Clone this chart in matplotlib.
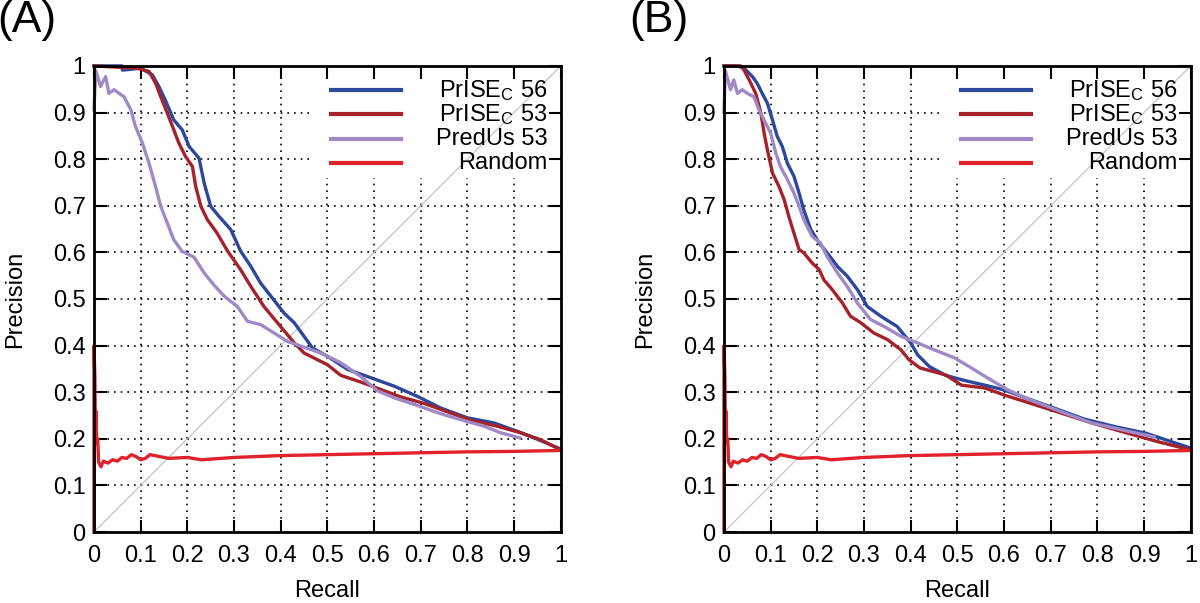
import numpy as np
import matplotlib
matplotlib.use("Agg")
import matplotlib.pyplot as plt
from matplotlib.ticker import FormatStrFormatter
from matplotlib.patches import Rectangle

plt.rcParams['font.family'] = ['Liberation Sans', 'DejaVu Sans']
plt.rcParams['mathtext.fontset'] = 'custom'
plt.rcParams['mathtext.rm'] = 'Liberation Sans'
plt.rcParams['mathtext.it'] = 'Liberation Sans:italic'

# ---- data ----
labels = [r'PrISE$_{\mathrm{C}}$ 56', r'PrISE$_{\mathrm{C}}$ 53', 'PredUs 53', 'Random']
colors = ['#2c479c', '#a5222b', '#a08ac6', '#e2222a']
ticks = [0, 0.1, 0.2, 0.3, 0.4, 0.5, 0.6, 0.7, 0.8, 0.9, 1.0]
diag = [0, 1]

# panel A
prise56_a_rec = [0, 0.06, 0.061, 0.10, 0.125, 0.139, 0.154, 0.171, 0.189, 0.204, 0.225, 0.236, 0.25,
                 0.268, 0.293, 0.314, 0.336, 0.357, 0.379, 0.407, 0.429, 0.45, 0.468, 0.5, 0.543,
                 0.593, 0.643, 0.693, 0.743, 0.8, 0.857, 0.907, 0.95, 1.0]
prise56_a_pre = [1.0, 1.0, 0.991, 0.995, 0.981, 0.956, 0.924, 0.884, 0.863, 0.827, 0.802, 0.749, 0.699,
                 0.677, 0.649, 0.603, 0.57, 0.534, 0.506, 0.47, 0.449, 0.42, 0.395, 0.377, 0.349,
                 0.331, 0.313, 0.291, 0.266, 0.245, 0.234, 0.216, 0.199, 0.178]
prise53_a_rec = [0, 0.093, 0.118, 0.132, 0.143, 0.157, 0.171, 0.182, 0.196, 0.211, 0.218, 0.229, 0.243,
                 0.264, 0.286, 0.314, 0.336, 0.364, 0.393, 0.429, 0.45, 0.5, 0.529, 0.571, 0.614,
                 0.657, 0.707, 0.757, 0.807, 0.864, 0.914, 0.957, 1.0]
prise53_a_pre = [1.0, 0.995, 0.988, 0.963, 0.934, 0.899, 0.863, 0.834, 0.806, 0.784, 0.741, 0.699, 0.67,
                 0.641, 0.603, 0.563, 0.527, 0.484, 0.449, 0.406, 0.384, 0.359, 0.336, 0.322, 0.306,
                 0.29, 0.276, 0.258, 0.24, 0.227, 0.213, 0.198, 0.176]
predus_a_rec = [0, 0.004, 0.014, 0.025, 0.032, 0.043, 0.054, 0.064, 0.079, 0.089, 0.104, 0.118, 0.132,
                0.143, 0.157, 0.171, 0.189, 0.214, 0.236, 0.257, 0.279, 0.307, 0.329, 0.357, 0.386,
                0.414, 0.443, 0.486, 0.529, 0.571, 0.607, 0.643, 0.686, 0.736, 0.786, 0.836, 0.871, 0.912]
predus_a_pre = [0.906, 0.99, 0.956, 0.977, 0.941, 0.949, 0.941, 0.934, 0.906, 0.87, 0.834, 0.791, 0.741,
                0.699, 0.663, 0.627, 0.602, 0.59, 0.556, 0.53, 0.506, 0.484, 0.452, 0.445, 0.427,
                0.409, 0.399, 0.384, 0.363, 0.334, 0.303, 0.288, 0.274, 0.256, 0.241, 0.227, 0.213, 0.202]

# panel B
prise56_b_rec = [0, 0.029, 0.043, 0.061, 0.071, 0.082, 0.093, 0.104, 0.114, 0.125, 0.136, 0.15, 0.161,
                 0.171, 0.186, 0.204, 0.221, 0.243, 0.264, 0.286, 0.307, 0.336, 0.371, 0.4, 0.415,
                 0.44, 0.475, 0.516, 0.559, 0.6, 0.64, 0.707, 0.773, 0.838, 0.904, 1.0]
prise56_b_pre = [1.0, 1.0, 0.995, 0.977, 0.963, 0.941, 0.92, 0.884, 0.849, 0.827, 0.791, 0.763, 0.727,
                 0.691, 0.649, 0.62, 0.599, 0.57, 0.549, 0.52, 0.484, 0.463, 0.441, 0.406, 0.38,
                 0.355, 0.336, 0.325, 0.315, 0.305, 0.29, 0.266, 0.242, 0.226, 0.212, 0.18]
prise53_b_rec = [0, 0.036, 0.043, 0.054, 0.068, 0.079, 0.086, 0.093, 0.104, 0.118, 0.129, 0.139, 0.15,
                 0.161, 0.171, 0.189, 0.204, 0.214, 0.232, 0.254, 0.271, 0.293, 0.321, 0.35, 0.379,
                 0.396, 0.42, 0.475, 0.509, 0.559, 0.6, 0.657, 0.723, 0.788, 0.854, 0.929, 1.0]
prise53_b_pre = [1.0, 1.0, 0.991, 0.97, 0.941, 0.899, 0.856, 0.82, 0.77, 0.741, 0.713, 0.677, 0.641,
                 0.606, 0.599, 0.577, 0.563, 0.541, 0.52, 0.491, 0.463, 0.449, 0.427, 0.413, 0.391,
                 0.37, 0.352, 0.337, 0.315, 0.309, 0.294, 0.276, 0.255, 0.234, 0.215, 0.194, 0.176]
predus_b_rec = [0, 0.003, 0.014, 0.021, 0.029, 0.039, 0.05, 0.064, 0.075, 0.086, 0.1, 0.111, 0.121,
                0.136, 0.15, 0.161, 0.171, 0.189, 0.207, 0.221, 0.243, 0.264, 0.286, 0.314, 0.343,
                0.379, 0.414, 0.45, 0.493, 0.53, 0.559, 0.608, 0.657, 0.723, 0.788, 0.854, 0.921]
predus_b_pre = [0.9, 0.99, 0.949, 0.97, 0.941, 0.949, 0.941, 0.934, 0.906, 0.884, 0.856, 0.813, 0.784,
                0.756, 0.727, 0.699, 0.67, 0.634, 0.62, 0.591, 0.556, 0.527, 0.491, 0.456, 0.441,
                0.42, 0.406, 0.391, 0.374, 0.352, 0.334, 0.305, 0.283, 0.258, 0.234, 0.219, 0.204]

# random baseline (same in both panels)
random_rec = [0, 0, 0.002, 0.003, 0.004, 0.006, 0.008, 0.01, 0.015, 0.02, 0.03, 0.04, 0.05, 0.06,
              0.07, 0.08, 0.09, 0.1, 0.11, 0.12, 0.14, 0.16, 0.2, 0.23, 0.3, 0.4, 0.5, 0.6, 0.7,
              0.8, 0.9, 1.0]
random_pre = [0, 0.4, 0.33, 0.22, 0.26, 0.19, 0.2, 0.15, 0.14, 0.152, 0.148, 0.155, 0.152, 0.16,
              0.158, 0.166, 0.162, 0.155, 0.158, 0.166, 0.162, 0.158, 0.16, 0.155, 0.16, 0.164,
              0.166, 0.168, 0.17, 0.172, 0.173, 0.175]

panels = [
    ('(A)', [(prise56_a_rec, prise56_a_pre), (prise53_a_rec, prise53_a_pre),
             (predus_a_rec, predus_a_pre), (random_rec, random_pre)]),
    ('(B)', [(prise56_b_rec, prise56_b_pre), (prise53_b_rec, prise53_b_pre),
             (predus_b_rec, predus_b_pre), (random_rec, random_pre)]),
]

fig = plt.figure(figsize=(12, 6.03), dpi=100)
ax_lefts = [0.0783, 0.6033]
tag_x = [-0.002, 0.524]

for k, (tag, series) in enumerate(panels):
    ax = fig.add_axes([ax_lefts[k], 0.1177, 0.389, 0.773])
    ax.set_xlim(0, 1)
    ax.set_ylim(0, 1)

    # dotted grid, drawn by hand so the key box can blank it
    for t in ticks[1:-1]:
        ax.axhline(t, color='black', lw=1.2, ls=(0, (1, 3)), zorder=0.5)
        ax.axvline(t, color='black', lw=1.2, ls=(0, (1, 3)), zorder=0.5)
    ax.add_patch(Rectangle((0.47, 0.76), 0.53, 0.24, transform=ax.transAxes,
                           facecolor='white', edgecolor='none', zorder=1))

    ax.plot(diag, diag, color='#c4c4c4', lw=0.9, zorder=1.5)
    for (r, p), c in zip(series, colors):
        ax.plot(r, p, color=c, lw=2.4, zorder=2, clip_on=False)

    # key: sample line on the left, right-justified text
    for i, (lab, c) in enumerate(zip(labels, colors)):
        y = 0.948 - i * 0.052
        ax.plot([0.507, 0.657], [y, y], transform=ax.transAxes, color=c, lw=3, zorder=3)
        ax.text(0.972, y, lab, transform=ax.transAxes, ha='right', va='center',
                fontsize=17, zorder=3)

    ax.set_xticks(ticks)
    ax.set_yticks(ticks)
    ax.xaxis.set_major_formatter(FormatStrFormatter('%g'))
    ax.yaxis.set_major_formatter(FormatStrFormatter('%g'))
    ax.tick_params(direction='in', length=9, width=1.5, labelsize=17,
                   top=True, right=True)
    ax.tick_params(axis='x', pad=9)
    ax.tick_params(axis='y', pad=6)
    for s in ax.spines.values():
        s.set_linewidth(2)
        s.set_zorder(4)

    ax.set_xlabel('Recall', fontsize=17, labelpad=10)
    ax.set_ylabel('Precision', fontsize=17, labelpad=19)

    fig.text(tag_x[k], 1.0, tag, fontsize=32, va='top', ha='left')

fig.savefig('out.png', dpi=100)
